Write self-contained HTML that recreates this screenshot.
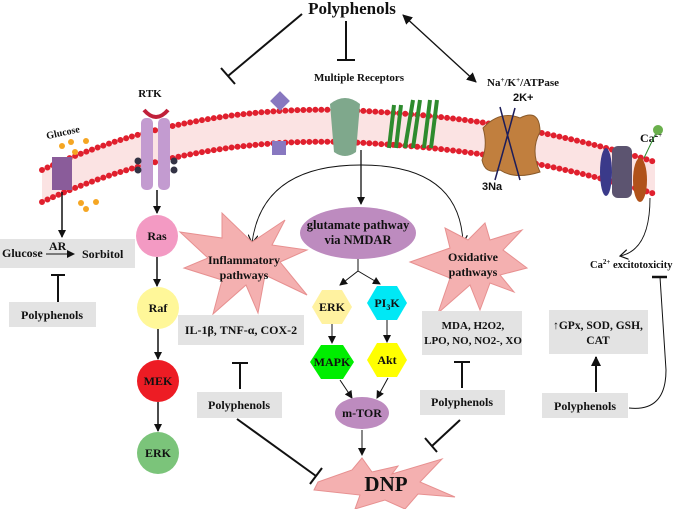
<!DOCTYPE html>
<html><head><style>
body{margin:0;background:#fff}
svg{display:block}
text{font-family:"Liberation Serif",serif;font-weight:bold;fill:#111}
</style></head><body>
<svg width="685" height="509" viewBox="0 0 685 509" xmlns="http://www.w3.org/2000/svg">
<defs>
<marker id="a" markerWidth="8" markerHeight="8" refX="7" refY="4" orient="auto" markerUnits="userSpaceOnUse"><path d="M0,0 L8,4 L0,8 z" fill="#111"/></marker>
<marker id="as" markerWidth="10" markerHeight="10" refX="9" refY="5" orient="auto-start-reverse" markerUnits="userSpaceOnUse"><path d="M0,0 L10,5 L0,10 z" fill="#111"/></marker>
<marker id="ao" markerWidth="10" markerHeight="10" refX="8" refY="5" orient="auto" markerUnits="userSpaceOnUse"><path d="M0,0 L8,5 L0,10" fill="none" stroke="#111" stroke-width="1.2"/></marker>
</defs>

<!-- membrane -->
<path d="M42,170 Q200,98 380,112 Q520,120 655,162 L655,194 Q520,152 380,144 Q200,132 42,202 z" fill="#fbe3e3"/>
<path d="M42,170 Q200,98 380,112 Q520,120 655,162" fill="none" stroke="#e0202e" stroke-width="6" stroke-dasharray="0 6" stroke-linecap="round"/>
<path d="M42,202 Q200,130 380,144 Q520,152 655,194" fill="none" stroke="#e0202e" stroke-width="6" stroke-dasharray="0 6" stroke-linecap="round"/>

<!-- top polyphenols -->
<text x="352" y="14" font-size="17" text-anchor="middle">Polyphenols</text>
<line x1="302" y1="14" x2="228" y2="76" stroke="#111" stroke-width="2"/>
<line x1="221" y1="68" x2="235" y2="84" stroke="#111" stroke-width="2"/>
<line x1="346" y1="21" x2="346" y2="60" stroke="#111" stroke-width="2"/>
<line x1="337" y1="60" x2="355" y2="60" stroke="#111" stroke-width="2"/>
<line x1="403" y1="15" x2="476" y2="82" stroke="#111" stroke-width="1.3" marker-start="url(#as)" marker-end="url(#as)"/>
<text x="359" y="81" font-size="11" text-anchor="middle">Multiple Receptors</text>
<text x="487" y="86" font-size="11">Na<tspan font-size="7" dy="-4">+</tspan><tspan dy="4">/K</tspan><tspan font-size="7" dy="-4">+</tspan><tspan dy="4">/ATPase</tspan></text>
<text x="150" y="97" font-size="11" text-anchor="middle">RTK</text>
<text x="46" y="135" font-size="10" transform="rotate(-12 66 132)">Glucose</text>
<text x="640" y="142" font-size="12">Ca<tspan font-size="7" dy="-5">2+</tspan></text>

<!-- glucose transporter -->
<rect x="52" y="157" width="20" height="33" fill="#8a5c9a"/>
<g fill="#f5a623"><circle cx="62" cy="146" r="3"/><circle cx="71" cy="142" r="3"/><circle cx="86" cy="141" r="3"/><circle cx="75" cy="152" r="3"/><circle cx="81" cy="203" r="3"/><circle cx="96" cy="202" r="3"/><circle cx="86" cy="209" r="3"/></g>
<!-- RTK -->
<rect x="141" y="118" width="12" height="72" rx="5" fill="#c39bd0"/>
<rect x="158" y="118" width="12" height="72" rx="5" fill="#c39bd0"/>
<path d="M144,110 Q156,124 168,110" fill="none" stroke="#c0203a" stroke-width="4"/>
<circle cx="138" cy="161" r="3.5" fill="#334"/><circle cx="138" cy="170" r="3.5" fill="#334"/><circle cx="174" cy="161" r="3.5" fill="#334"/><circle cx="174" cy="170" r="3.5" fill="#334"/>
<!-- small receptor -->
<g fill="#8878c0"><rect x="273" y="94" width="14" height="14" transform="rotate(45 280 101)"/><rect x="272" y="141" width="14" height="14"/></g>
<!-- green channel -->
<path d="M330,104 Q345,92 360,104 L356,152 Q345,160 334,152 z" fill="#7fa88c"/>
<!-- green helices -->
<g stroke="#2e8b2e" stroke-width="4"><line x1="394" y1="105" x2="389" y2="148"/><line x1="401" y1="105" x2="396" y2="148"/><line x1="413" y1="100" x2="405" y2="148"/><line x1="420" y1="100" x2="413" y2="148"/><line x1="430" y1="100" x2="424" y2="148"/><line x1="437" y1="100" x2="431" y2="148"/></g>
<!-- ATPase -->
<path d="M483,128 Q500,110 520,118 Q540,108 540,132 Q530,150 540,172 Q515,180 500,170 Q485,175 482,160 Q488,145 483,128z" fill="#c17f3e" stroke="#8a5a2a"/>
<path d="M500,107 Q510,145 520,180 M515,108 Q505,145 495,180" fill="none" stroke="#1d1d5a" stroke-width="1.5"/>
<text x="513" y="101" font-size="11" fill="#1d1d5a" style="font-family:'Liberation Sans',sans-serif">2K+</text>
<text x="482" y="190" font-size="11" fill="#1d1d5a" style="font-family:'Liberation Sans',sans-serif">3Na</text>
<!-- Ca channel -->
<ellipse cx="606" cy="172" rx="6" ry="24" fill="#3a3a8a"/>
<rect x="612" y="146" width="20" height="52" rx="6" fill="#5c5470"/>
<ellipse cx="640" cy="180" rx="7" ry="22" fill="#b0521a"/>
<line x1="644" y1="158" x2="656" y2="133" stroke="#2e8b2e"/>
<circle cx="658" cy="130" r="5" fill="#6ab04c"/>

<!-- left glucose box -->
<line x1="62" y1="192" x2="62" y2="237" stroke="#111" stroke-width="1.5" marker-end="url(#a)"/>
<rect x="0" y="239" width="135" height="29" fill="#e3e3e3"/>
<text x="2" y="257" font-size="12">Glucose</text>
<text x="49" y="250" font-size="12">AR</text>
<line x1="46" y1="254" x2="74" y2="254" stroke="#111" stroke-width="1" marker-end="url(#a)"/>
<text x="82" y="258" font-size="12">Sorbitol</text>
<line x1="58" y1="275" x2="58" y2="302" stroke="#111" stroke-width="2"/>
<line x1="51" y1="275" x2="65" y2="275" stroke="#111" stroke-width="2"/>
<rect x="9" y="302" width="87" height="25" fill="#e3e3e3"/>
<text x="52" y="319" font-size="12" text-anchor="middle">Polyphenols</text>

<!-- RTK column -->
<line x1="157" y1="190" x2="157" y2="213" stroke="#111" stroke-width="1.5" marker-end="url(#a)"/>
<circle cx="157" cy="236" r="21" fill="#f39ac3"/><text x="157" y="240" font-size="12" text-anchor="middle">Ras</text>
<line x1="157" y1="257" x2="157" y2="286" stroke="#111" stroke-width="1.5" marker-end="url(#a)"/>
<circle cx="158" cy="308" r="21" fill="#fff799"/><text x="158" y="312" font-size="12" text-anchor="middle">Raf</text>
<line x1="158" y1="329" x2="158" y2="359" stroke="#111" stroke-width="1.5" marker-end="url(#a)"/>
<circle cx="158" cy="381" r="21" fill="#ed1c24"/><text x="158" y="385" font-size="12" text-anchor="middle">MEK</text>
<line x1="158" y1="402" x2="158" y2="431" stroke="#111" stroke-width="1.5" marker-end="url(#a)"/>
<circle cx="158" cy="453" r="21" fill="#7bc47a"/><text x="158" y="457" font-size="12" text-anchor="middle">ERK</text>

<!-- center branching -->
<line x1="361" y1="150" x2="361" y2="204" stroke="#111" stroke-width="1.3" marker-end="url(#a)"/>
<path d="M361,165 Q262,165 252,243" fill="none" stroke="#111" stroke-width="0.9" marker-end="url(#ao)"/>
<path d="M361,165 Q460,165 463,243" fill="none" stroke="#111" stroke-width="0.9" marker-end="url(#ao)"/>
<path d="M650,198 Q650,250 620,256" fill="none" stroke="#111" stroke-width="0.9" marker-end="url(#ao)"/>

<!-- inflammatory star -->
<polygon points="180,232 222,238 222,213 252,242 285,220 272,245 307,250 280,262 307,295 265,275 258,313 246,285 213,314 222,280 184,268 208,258" fill="#f4b0b0" stroke="#e79090"/>
<text x="244" y="264" font-size="12" text-anchor="middle">Inflammatory</text>
<text x="244" y="279" font-size="12" text-anchor="middle">pathways</text>
<rect x="178" y="315" width="126" height="30" fill="#e3e3e3"/>
<text x="241" y="334" font-size="12" text-anchor="middle">IL-1β, TNF-α, COX-2</text>
<line x1="240" y1="363" x2="240" y2="389" stroke="#111" stroke-width="2"/>
<line x1="232" y1="363" x2="248" y2="363" stroke="#111" stroke-width="2"/>
<rect x="197" y="392" width="85" height="26" fill="#e3e3e3"/>
<text x="239" y="409" font-size="12" text-anchor="middle">Polyphenols</text>
<line x1="237" y1="419" x2="316" y2="476" stroke="#111" stroke-width="2"/>
<line x1="310" y1="484" x2="322" y2="468" stroke="#111" stroke-width="2"/>

<!-- glutamate -->
<ellipse cx="358" cy="233" rx="58" ry="26" fill="#bd8bbf"/>
<text x="358" y="229" font-size="12.5" text-anchor="middle">glutamate pathway</text>
<text x="358" y="244" font-size="12.5" text-anchor="middle">via NMDAR</text>
<line x1="358" y1="259" x2="358" y2="271" stroke="#111" stroke-width="1"/>
<line x1="358" y1="271" x2="340" y2="285" stroke="#111" stroke-width="1" marker-end="url(#a)"/>
<line x1="358" y1="271" x2="380" y2="284" stroke="#111" stroke-width="1" marker-end="url(#a)"/>
<polygon points="312,307 322,290 342,290 352,307 342,324 322,324" fill="#fff2a0"/>
<text x="332" y="311" font-size="12" text-anchor="middle">ERK</text>
<polygon points="367,303 377,286 397,286 407,303 397,320 377,320" fill="#00e8f5"/>
<text x="387" y="307" font-size="12" text-anchor="middle">PI<tspan font-size="8" dy="3">3</tspan><tspan dy="-3">K</tspan></text>
<line x1="332" y1="324" x2="332" y2="343" stroke="#111" stroke-width="1" marker-end="url(#a)"/>
<line x1="387" y1="320" x2="387" y2="342" stroke="#111" stroke-width="1" marker-end="url(#a)"/>
<polygon points="310,362 321,345 343,345 354,362 343,379 321,379" fill="#00ee00"/>
<text x="332" y="366" font-size="12" text-anchor="middle">MAPK</text>
<polygon points="367,360 377,343 397,343 407,360 397,377 377,377" fill="#ffff00"/>
<text x="387" y="364" font-size="12" text-anchor="middle">Akt</text>
<line x1="340" y1="380" x2="352" y2="398" stroke="#111" stroke-width="1" marker-end="url(#a)"/>
<line x1="388" y1="378" x2="377" y2="398" stroke="#111" stroke-width="1" marker-end="url(#a)"/>
<ellipse cx="362" cy="413" rx="27" ry="16" fill="#bd8bbf"/>
<text x="362" y="417" font-size="12" text-anchor="middle">m-TOR</text>
<line x1="362" y1="430" x2="362" y2="455" stroke="#111" stroke-width="1" marker-end="url(#a)"/>

<!-- DNP star -->
<polygon points="318,482 352,470 362,458 372,472 398,466 392,474 442,459 420,482 455,497 418,494 405,509 385,500 355,509 360,495 314,490" fill="#f4b0b0" stroke="#e79090"/>
<text x="386" y="491" font-size="21" text-anchor="middle">DNP</text>

<!-- oxidative star -->
<polygon points="410,262 450,248 445,228 468,240 485,223 490,240 522,230 503,250 527,268 500,275 514,292 490,283 480,310 470,285 438,313 450,278" fill="#f4b0b0" stroke="#e79090"/>
<text x="473" y="261" font-size="12" text-anchor="middle">Oxidative</text>
<text x="473" y="276" font-size="12" text-anchor="middle">pathways</text>
<rect x="422" y="311" width="100" height="44" fill="#e3e3e3"/>
<text x="473" y="329" font-size="11" text-anchor="middle">MDA, H2O2,</text>
<text x="473" y="344" font-size="11" text-anchor="middle">LPO, NO, NO2-, XO</text>
<line x1="462" y1="362" x2="462" y2="388" stroke="#111" stroke-width="2"/>
<line x1="454" y1="362" x2="470" y2="362" stroke="#111" stroke-width="2"/>
<rect x="420" y="390" width="85" height="25" fill="#e3e3e3"/>
<text x="462" y="406" font-size="12" text-anchor="middle">Polyphenols</text>
<line x1="460" y1="420" x2="432" y2="446" stroke="#111" stroke-width="2"/>
<line x1="425" y1="438" x2="437" y2="452" stroke="#111" stroke-width="2"/>

<!-- right -->
<text x="590" y="268" font-size="10.5">Ca<tspan font-size="7" dy="-4">2+</tspan><tspan dy="4"> excitotoxicity</tspan></text>
<rect x="549" y="310" width="99" height="44" fill="#e3e3e3"/>
<text x="598" y="329" font-size="11.5" text-anchor="middle">↑GPx, SOD, GSH,</text>
<text x="598" y="344" font-size="11.5" text-anchor="middle">CAT</text>
<line x1="596" y1="392" x2="596" y2="357" stroke="#111" stroke-width="2" marker-end="url(#as)"/>
<rect x="542" y="393" width="86" height="25" fill="#e3e3e3"/>
<text x="585" y="410" font-size="12" text-anchor="middle">Polyphenols</text>
<path d="M629,408 Q666,412 666,370 L660,277" fill="none" stroke="#111" stroke-width="1"/>
<line x1="652" y1="277" x2="667" y2="277" stroke="#111" stroke-width="2.5"/>
</svg>
</body></html>
